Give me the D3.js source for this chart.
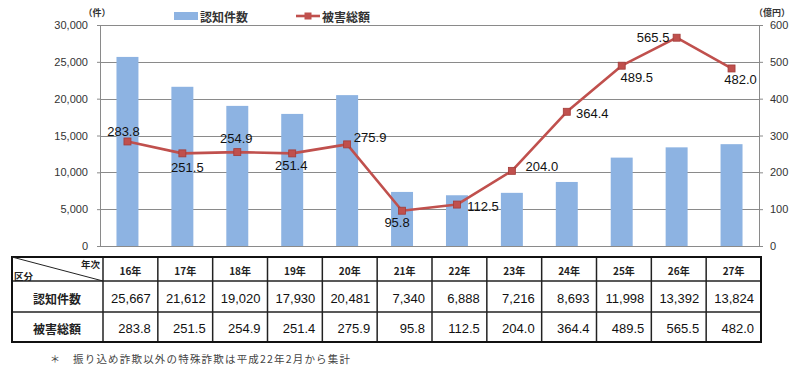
<!DOCTYPE html>
<html><head><meta charset="utf-8">
<script src="https://cdn.jsdelivr.net/npm/d3@7"></script>
<style>
html,body{margin:0;padding:0;background:#fff;}
svg{display:block;}
</style>
</head><body>
<svg id="c" width="800" height="372"></svg>
<script>
// ---- data ----
const years = ["16年","17年","18年","19年","20年","21年","22年","23年","24年","25年","26年","27年"];
const cases = [25667,21612,19020,17930,20481,7340,6888,7216,8693,11998,13392,13824];
const damage = [283.8,251.5,254.9,251.4,275.9,95.8,112.5,204.0,364.4,489.5,565.5,482.0];
const leftTicks = [0,5000,10000,15000,20000,25000,30000];
const rightTicks = [0,100,200,300,400,500,600];
const seriesNames = ["認知件数","被害総額"];
const rowHeaders = ["年次","区分"];
const unitLeft = "（件）";
const unitRight = "（億円）";
const footnote = "振り込め詐欺以外の特殊詐欺は平成22年2月から集計";

// ---- layout (not data) ----
const labelOffsets = [[-4,-10],[5,14],[-1,-14],[-1,12.5],[23,-6.5],[-5,12],[26,1.5],[30,-4],[25.5,2],[15,12],[-23.5,-0.5],[9,11.5]];

const svg = d3.select("#c");
const L = 100, R = 759, T = 25, B = 246;
const numFont = "'Liberation Sans', Arial, sans-serif";
const jpFont = "'Noto Sans CJK JP', sans-serif";

const x = d3.scalePoint().domain(years).range([L, R]).padding(0.5);
const step = x.step();
const yL = d3.scaleLinear().domain([0,30000]).range([B, T]);
const yR = d3.scaleLinear().domain([0,600]).range([B, T]);

// gridlines
svg.append("g").selectAll("line").data(leftTicks).join("line")
  .attr("x1", L).attr("x2", R)
  .attr("y1", d => Math.round(yL(d)) + 0.5).attr("y2", d => Math.round(yL(d)) + 0.5)
  .attr("stroke", "#8a8a8a").attr("stroke-width", 1);

// left axis
const gL = svg.append("g").attr("transform", `translate(${L},0)`)
  .call(d3.axisLeft(yL).tickValues(leftTicks).tickFormat(d3.format(",")).tickSize(3).tickPadding(9));
gL.select(".domain").attr("stroke", "#8a8a8a");
gL.selectAll(".tick line").attr("stroke", "#8a8a8a");
gL.selectAll("text").attr("font-family", numFont).attr("font-size", 11).attr("fill", "#333");

// right axis
const gR = svg.append("g").attr("transform", `translate(${R},0)`)
  .call(d3.axisRight(yR).tickValues(rightTicks).tickSize(4).tickPadding(7));
gR.select(".domain").attr("stroke", "#8a8a8a");
gR.selectAll(".tick line").attr("stroke", "#8a8a8a");
gR.selectAll("text").attr("font-family", numFont).attr("font-size", 11).attr("fill", "#333");

// units
svg.append("text").attr("x", 97).attr("y", 16).attr("text-anchor", "middle")
  .attr("font-family", jpFont).attr("font-size", 9).attr("font-weight", "bold").attr("fill", "#333").text(unitLeft);
svg.append("text").attr("x", 772).attr("y", 16).attr("text-anchor", "middle")
  .attr("font-family", jpFont).attr("font-size", 9).attr("font-weight", "bold").attr("fill", "#333").text(unitRight);

// bars
const bw = step * 0.4;
svg.append("g").selectAll("rect").data(years).join("rect")
  .attr("x", d => x(d) - bw/2).attr("width", bw)
  .attr("y", (d,i) => yL(cases[i])).attr("height", (d,i) => B - yL(cases[i]))
  .attr("fill", "#8DB3E2");

// line
const line = d3.line().x((d,i) => x(years[i])).y(d => yR(d));
svg.append("path").datum(damage).attr("d", line)
  .attr("fill", "none").attr("stroke", "#C0504D").attr("stroke-width", 2.6).attr("stroke-linejoin", "round");
svg.append("g").selectAll("rect").data(damage).join("rect")
  .attr("x", (d,i) => x(years[i]) - 3.5).attr("y", d => yR(d) - 3.5)
  .attr("width", 7).attr("height", 7)
  .attr("fill", "#C0504D").attr("stroke", "#A33c39").attr("stroke-width", 0.8);

// data labels
svg.append("g").selectAll("text").data(damage).join("text")
  .attr("x", (d,i) => x(years[i]) + labelOffsets[i][0])
  .attr("y", (d,i) => yR(d) + labelOffsets[i][1])
  .attr("text-anchor", "middle").attr("dominant-baseline", "central")
  .attr("font-family", numFont).attr("font-size", 13).attr("fill", "#111")
  .text(d => d.toFixed(1));

// legend
const lg = svg.append("g");
lg.append("rect").attr("x", 174).attr("y", 12).attr("width", 24).attr("height", 8).attr("fill", "#8DB3E2");
lg.append("text").attr("x", 200).attr("y", 16.5).attr("dominant-baseline", "central")
  .attr("font-family", jpFont).attr("font-size", 12).attr("font-weight", "bold").attr("fill", "#333").text(seriesNames[0]);
lg.append("line").attr("x1", 296).attr("x2", 320).attr("y1", 16).attr("y2", 16)
  .attr("stroke", "#C0504D").attr("stroke-width", 2.6);
lg.append("rect").attr("x", 304.5).attr("y", 12.5).attr("width", 7).attr("height", 7).attr("fill", "#C0504D");
lg.append("text").attr("x", 322).attr("y", 16.5).attr("dominant-baseline", "central")
  .attr("font-family", jpFont).attr("font-size", 12).attr("font-weight", "bold").attr("fill", "#333").text(seriesNames[1]);

// ---- table ----
const tL = 12, tR = 761, tFirst = 103;
const rowsY = [257, 281, 312, 342];
const tx = d3.scaleBand().domain(years).range([tFirst, tR]);
const tg = svg.append("g");
const vx = [tFirst].concat(years.map(d => tx(d) + tx.bandwidth()));
tg.selectAll("line.v").data(vx.slice(0,-1)).join("line").attr("class","v")
  .attr("x1", d => d).attr("x2", d => d).attr("y1", rowsY[0]).attr("y2", rowsY[3])
  .attr("stroke", "#222").attr("stroke-width", 1.5);
tg.selectAll("line.h").data(rowsY.slice(1,3)).join("line").attr("class","h")
  .attr("x1", tL).attr("x2", tR).attr("y1", d => d).attr("y2", d => d)
  .attr("stroke", "#222").attr("stroke-width", 1.5);
tg.append("rect").attr("x", tL).attr("y", rowsY[0]).attr("width", tR - tL).attr("height", rowsY[3] - rowsY[0])
  .attr("fill", "none").attr("stroke", "#111").attr("stroke-width", 2);
tg.append("line").attr("x1", tL).attr("y1", rowsY[0]).attr("x2", tFirst).attr("y2", rowsY[1])
  .attr("stroke", "#222").attr("stroke-width", 1);
tg.append("text").attr("x", 100).attr("y", 264).attr("text-anchor", "end").attr("dominant-baseline", "central")
  .attr("font-family", jpFont).attr("font-size", 9.5).attr("font-weight", "bold").attr("fill", "#222").text(rowHeaders[0]);
tg.append("text").attr("x", 14).attr("y", 276).attr("dominant-baseline", "central")
  .attr("font-family", jpFont).attr("font-size", 9.5).attr("font-weight", "bold").attr("fill", "#222").text(rowHeaders[1]);
tg.selectAll("text.yr").data(years).join("text").attr("class","yr")
  .attr("x", d => tx(d) + tx.bandwidth()/2).attr("y", 270).attr("text-anchor", "middle").attr("dominant-baseline", "central")
  .attr("font-family", jpFont).attr("font-size", 10).attr("font-weight", "bold").attr("fill", "#222").text(d => d);
[seriesNames[0], seriesNames[1]].forEach((n, r) => {
  tg.append("text").attr("x", 57).attr("y", r === 0 ? 298 : 328).attr("text-anchor", "middle").attr("dominant-baseline", "central")
    .attr("font-family", jpFont).attr("font-size", 12).attr("font-weight", "bold").attr("fill", "#222").text(n);
});
const fmt = d3.format(",");
tg.selectAll("text.c1").data(cases).join("text").attr("class","c1")
  .attr("x", (d,i) => tx(years[i]) + tx.bandwidth() - 7).attr("y", 298.5).attr("text-anchor", "end").attr("dominant-baseline", "central")
  .attr("font-family", numFont).attr("font-size", 13).attr("fill", "#111").text(d => fmt(d));
tg.selectAll("text.c2").data(damage).join("text").attr("class","c2")
  .attr("x", (d,i) => tx(years[i]) + tx.bandwidth() - 7).attr("y", 328.5).attr("text-anchor", "end").attr("dominant-baseline", "central")
  .attr("font-family", numFont).attr("font-size", 13).attr("fill", "#111").text(d => d.toFixed(1));

// footnote
svg.append("text").attr("x", 50).attr("y", 358).attr("dominant-baseline", "central")
  .attr("font-family", jpFont).attr("font-size", 10).attr("fill", "#444").text("＊");
svg.append("text").attr("x", 73).attr("y", 358).attr("dominant-baseline", "central")
  .attr("font-family", jpFont).attr("font-size", 10.5).attr("fill", "#444")
  .attr("textLength", 277).attr("lengthAdjust", "spacing").text(footnote);
</script>
</body></html>
